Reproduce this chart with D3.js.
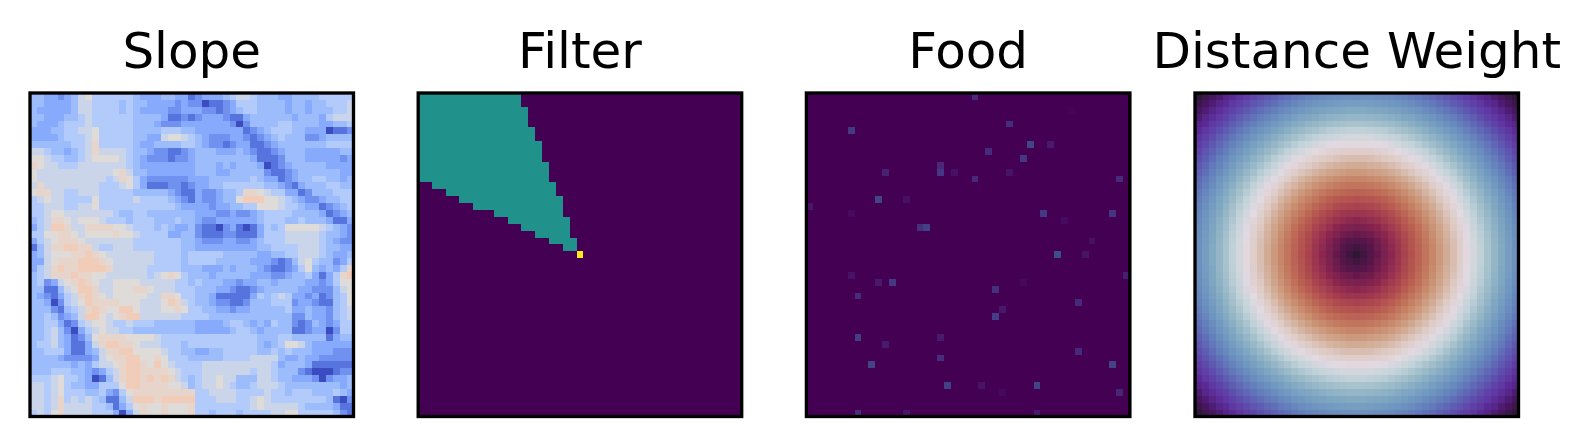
<!DOCTYPE html>
<html>
<head>
<meta charset="utf-8">
<script src="https://cdn.jsdelivr.net/npm/d3@7"></script>
<style>
html,body{margin:0;padding:0;background:#fff;overflow:hidden}
svg{display:block}
text{font-family:"DejaVu Sans",sans-serif;fill:#000}
</style>
</head>
<body>
<svg id="chart" width="1590" height="446">
<defs><filter id="soft" x="-2%" y="-2%" width="104%" height="104%"><feGaussianBlur stdDeviation="0.5"/></filter></defs>
</svg>
<script>
const titles = ["Slope", "Filter", "Food", "Distance Weight"];

// Slope: one digit per cell; slopeLevels gives each digit's value
const slopeRows = [
"44332 34675 55555 43334 43312 33345 66544 43344 44555 55",
"44333 34665 55545 44333 32322 01123 55544 44344 34455 56",
"43333 34665 55545 43333 22333 22123 45544 44344 34445 56",
"44333 44565 55555 44443 11212 33321 13444 44434 44356 66",
"43334 55565 55555 44432 22333 33332 02444 45544 44334 45",
"33344 55667 55555 44445 55443 33333 31234 55544 33301 12",
"33334 55567 55555 44336 77654 32223 32123 45444 22344 44",
"44444 45568 55555 43344 44554 32212 33112 34444 44455 55",
"66544 34568 66665 44322 11234 44333 43211 23444 33333 44",
"77655 44567 77765 43222 12234 44444 44311 12444 33333 23",
"87665 55666 66665 43333 33334 44343 44430 12344 44433 33",
"76666 66666 66786 44333 33334 44334 44442 11234 44444 33",
"76666 66666 65687 53222 22233 34444 44543 31234 45544 34",
"68666 66666 55567 53111 22123 34455 55554 43213 44455 44",
"78866 55666 55555 44444 32113 22344 58876 55331 24445 55",
"56766 55557 55555 65555 43213 22344 79997 76543 22344 55",
"55666 55667 55555 55555 54333 32334 45577 76554 33123 45",
"55677 66666 66544 55444 44443 33223 22345 55544 44312 34",
"45688 76777 65554 55544 45443 22333 33345 55445 44431 13",
"35699 86688 88776 55545 43342 11023 10135 45777 77654 32",
"55778 87677 77877 65555 33442 11122 11135 55666 66544 32",
"35678 88766 66666 55555 55443 22233 22345 55666 66543 22",
"14688 99886 55666 55555 55443 33333 33344 55556 66544 33",
"34677 78898 76666 66655 55455 55544 44433 44556 66543 34",
"33678 88999 87666 66655 55455 55444 44333 21246 75442 35",
"35689 88999 98666 66555 55444 33343 44432 11235 74343 58",
"45688 89887 76666 66567 87544 43444 44333 22344 53135 89",
"45236 78987 66777 76666 65545 44433 23344 34444 33235 77",
"44114 67998 66777 88766 65554 44332 11234 44443 32224 67",
"43213 56898 76777 77668 87554 43111 11354 56533 23124 57",
"44302 56798 88877 76667 98654 43221 12444 55523 32114 57",
"44421 45689 87799 76667 78755 44332 33444 44533 43324 56",
"44542 34699 76789 96666 66555 54444 44444 44422 43324 56",
"44553 12567 76556 55544 44443 33345 54343 54421 24323 55",
"44564 20356 76655 44444 44443 33334 55434 44411 23302 55",
"44564 31247 88887 77765 55555 55555 55544 45544 44413 44",
"45564 31136 89988 76665 55455 55555 55543 45776 43333 33",
"44555 31134 68899 77776 55443 34455 55544 54544 43332 22",
"44443 22223 67889 97787 55544 44455 55666 64334 33222 22",
"44444 43435 66789 98797 65555 66666 66666 53444 31111 11",
"44455 54432 35689 98888 76555 66666 66566 54442 10001 22",
"55567 55430 14689 98989 86545 66766 44466 54433 32023 34",
"66567 54433 55579 98888 77645 66765 44566 65444 44444 34",
"66567 55544 53257 88888 88885 56666 55556 55455 54445 43",
"66568 56565 41146 99989 99995 55666 55676 55555 55541 02",
"66568 66665 54135 78778 77785 55555 55676 66665 44443 11",
"56578 66665 55303 68778 77785 54555 45555 66775 55554 21"
];
const slopeLevels = [0, 0.09, 0.165, 0.235, 0.3, 0.365, 0.44, 0.51, 0.56, 0.62];
const coolwarmStops = [0, 0.125, 0.25, 0.375, 0.5, 0.625, 0.75, 1];
const coolwarmColors = ["#3b4cc0", "#6282ea", "#8db0fe", "#b6cdfa", "#dddcdc", "#f2cbb7", "#f49a7b", "#b40426"];

// Filter: for rows 0..22, first and last teal column; the agent sits in one bright cell
const filterFirst = [0,0,0,0,0,0,0,0,0,0,0,0,0,2,4,6,8,11,13,15,17,19,21];
const filterLast = [14,14,15,15,15,16,16,17,17,17,18,18,18,19,19,20,20,20,21,21,21,22,22];
const filterCone = 0.5;
const filterAgentRow = 23;
const filterAgentCol = 23;

// Food: sparse cells
const foodCols = [24,38,29,6,32,35,26,31,19,19,11,21,29,24,45,10,14,0,6,34,44,37,16,17,41,36,40,6,46,10,12,31,27,7,39,28,27,7,19,11,39,19,9,44,20,25,33,28,45,7,14,33];
const foodRows = [0,2,4,5,7,7,8,9,10,11,11,11,11,12,12,15,15,16,17,17,17,18,19,19,21,23,23,26,26,27,27,27,28,29,30,31,32,35,35,36,37,38,39,39,42,42,42,43,43,46,46,46];
const foodValues = [0.12,0.01,0.13,0.17,0.2,0.07,0.12,0.16,0.11,0.16,0.09,0.04,0.05,0.11,0.12,0.2,0.04,0.06,0.03,0.17,0.15,0.03,0.14,0.19,0.04,0.24,0.05,0.05,0.08,0.07,0.16,0.02,0.14,0.13,0.11,0.06,0.18,0.18,0.07,0.07,0.11,0.13,0.2,0.2,0.19,0.05,0.2,0.02,0.1,0.13,0.06,0.07];

// Distance weight: one quadrant, rows and columns counted away from the centre cell
const distanceQuadrant = [
[0,1,2,3,4,5,6,7,8,9,10,11,12,13,14,15,16,17,18,19,20,21,22,23],
[1,1.4,2.2,3.2,4.1,5.1,6.1,7.1,8.1,9.1,10,11,12,13,14,15,16,17,18,19,20,21,22,23],
[2,2.2,2.8,3.6,4.5,5.4,6.3,7.3,8.2,9.2,10.2,11.2,12.2,13.2,14.1,15.1,16.1,17.1,18.1,19.1,20.1,21.1,22.1,23.1],
[3,3.2,3.6,4.2,5,5.8,6.7,7.6,8.5,9.5,10.4,11.4,12.4,13.3,14.3,15.3,16.3,17.3,18.2,19.2,20.2,21.2,22.2,23.2],
[4,4.1,4.5,5,5.7,6.4,7.2,8.1,8.9,9.8,10.8,11.7,12.6,13.6,14.6,15.5,16.5,17.5,18.4,19.4,20.4,21.4,22.4,23.3],
[5,5.1,5.4,5.8,6.4,7.1,7.8,8.6,9.4,10.3,11.2,12.1,13,13.9,14.9,15.8,16.8,17.7,18.7,19.6,20.6,21.6,22.6,23.5],
[6,6.1,6.3,6.7,7.2,7.8,8.5,9.2,10,10.8,11.7,12.5,13.4,14.3,15.2,16.2,17.1,18,19,19.9,20.9,21.8,22.8,23.8],
[7,7.1,7.3,7.6,8.1,8.6,9.2,9.9,10.6,11.4,12.2,13,13.9,14.8,15.7,16.6,17.5,18.4,19.3,20.2,21.2,22.1,23.1,24],
[8,8.1,8.2,8.5,8.9,9.4,10,10.6,11.3,12,12.8,13.6,14.4,15.3,16.1,17,17.9,18.8,19.7,20.6,21.5,22.5,23.4,24.4],
[9,9.1,9.2,9.5,9.8,10.3,10.8,11.4,12,12.7,13.5,14.2,15,15.8,16.6,17.5,18.4,19.2,20.1,21,21.9,22.8,23.8,24.7],
[10,10,10.2,10.4,10.8,11.2,11.7,12.2,12.8,13.5,14.1,14.9,15.6,16.4,17.2,18,18.9,19.7,20.6,21.5,22.4,23.3,24.2,25.1],
[11,11,11.2,11.4,11.7,12.1,12.5,13,13.6,14.2,14.9,15.6,16.3,17,17.8,18.6,19.4,20.2,21.1,22,22.8,23.7,24.6,25.5],
[12,12,12.2,12.4,12.6,13,13.4,13.9,14.4,15,15.6,16.3,17,17.7,18.4,19.2,20,20.8,21.6,22.5,23.3,24.2,25.1,25.9],
[13,13,13.2,13.3,13.6,13.9,14.3,14.8,15.3,15.8,16.4,17,17.7,18.4,19.1,19.8,20.6,21.4,22.2,23,23.9,24.7,25.6,26.4],
[14,14,14.1,14.3,14.6,14.9,15.2,15.7,16.1,16.6,17.2,17.8,18.4,19.1,19.8,20.5,21.3,22,22.8,23.6,24.4,25.2,26.1,26.9],
[15,15,15.1,15.3,15.5,15.8,16.2,16.6,17,17.5,18,18.6,19.2,19.8,20.5,21.2,21.9,22.7,23.4,24.2,25,25.8,26.6,27.5],
[16,16,16.1,16.3,16.5,16.8,17.1,17.5,17.9,18.4,18.9,19.4,20,20.6,21.3,21.9,22.6,23.3,24.1,24.8,25.6,26.4,27.2,28],
[17,17,17.1,17.3,17.5,17.7,18,18.4,18.8,19.2,19.7,20.2,20.8,21.4,22,22.7,23.3,24,24.8,25.5,26.2,27,27.8,28.6],
[18,18,18.1,18.2,18.4,18.7,19,19.3,19.7,20.1,20.6,21.1,21.6,22.2,22.8,23.4,24.1,24.8,25.5,26.2,26.9,27.7,28.4,29.2],
[19,19,19.1,19.2,19.4,19.6,19.9,20.2,20.6,21,21.5,22,22.5,23,23.6,24.2,24.8,25.5,26.2,26.9,27.6,28.3,29.1,29.8],
[20,20,20.1,20.2,20.4,20.6,20.9,21.2,21.5,21.9,22.4,22.8,23.3,23.9,24.4,25,25.6,26.2,26.9,27.6,28.3,29,29.7,30.5],
[21,21,21.1,21.2,21.4,21.6,21.8,22.1,22.5,22.8,23.3,23.7,24.2,24.7,25.2,25.8,26.4,27,27.7,28.3,29,29.7,30.4,31.1],
[22,22,22.1,22.2,22.4,22.6,22.8,23.1,23.4,23.8,24.2,24.6,25.1,25.6,26.1,26.6,27.2,27.8,28.4,29.1,29.7,30.4,31.1,31.8],
[23,23,23.1,23.2,23.3,23.5,23.8,24,24.4,24.7,25.1,25.5,25.9,26.4,26.9,27.5,28,28.6,29.2,29.8,30.5,31.1,31.8,32.5]
];
const distanceCentre = 23;
const distanceMax = 32.5;
const twilightStops = [0,0.05,0.1,0.15,0.2,0.25,0.3,0.35,0.4,0.45,0.5,0.55,0.6,0.65,0.7,0.75,0.8,0.85,0.9,0.95,1];
const twilightColors = ["#2f1436","#4a1a66","#5c2a96","#5f43a8","#5f5fb4","#637ebb","#6e95c0","#81a8c2","#9dbcc9","#c3d3d9","#e2d9e2","#ddc9c2","#d1ab94","#c98d6f","#c06f58","#b4534f","#a23b4f","#8a2650","#6c1a4e","#4c1447","#2f1436"];

const N = 47;
const panelLefts = [30, 418.2, 806.4, 1195];
const panelTop = 93;
const panelSize = 323.5;

const index = d3.range(N);
const xBand = left => d3.scaleBand().domain(index).range([left, left + panelSize]);
const yBand = d3.scaleBand().domain(index).range([panelTop, panelTop + panelSize]);

const coolwarm = d3.scaleLinear().domain(coolwarmStops).range(coolwarmColors).interpolate(d3.interpolateRgb);
const twilight = d3.scaleLinear().domain(twilightStops).range(twilightColors).interpolate(d3.interpolateRgb);
const viridis = d3.scaleSequential(d3.interpolateViridis).domain([0, 1]);
const distanceToWeight = d3.scaleLinear().domain([0, distanceMax]).range([1, 0]);

const slopeGrid = slopeRows.map(r => Array.from(r.replace(/\s/g, ""), ch => slopeLevels[+ch]));
const filterGrid = index.map(r => index.map(c => {
  if (r === filterAgentRow && c === filterAgentCol) return 1;
  if (r < filterFirst.length && c >= filterFirst[r] && c <= filterLast[r]) return filterCone;
  return 0;
}));
const foodGrid = index.map(() => index.map(() => 0));
foodCols.forEach((c, i) => { foodGrid[foodRows[i]][c] = foodValues[i]; });
const distanceGrid = index.map(r => index.map(c =>
  distanceToWeight(distanceQuadrant[Math.abs(r - distanceCentre)][Math.abs(c - distanceCentre)])));

const panels = [
  {grid: slopeGrid, color: coolwarm, soft: true},
  {grid: filterGrid, color: viridis, soft: false},
  {grid: foodGrid, color: viridis, soft: false},
  {grid: distanceGrid, color: twilight, soft: true}
];

const svg = d3.select("#chart");
panels.forEach((panel, p) => {
  const left = panelLefts[p];
  const x = xBand(left);
  const g = svg.append("g").attr("class", "panel");
  const cells = panel.grid.flatMap((row, r) => row.map((v, c) => ({r, c, v})));
  const image = g.append("g");
  if (panel.soft) image.attr("filter", "url(#soft)");
  image.append("g").attr("shape-rendering", "crispEdges")
    .selectAll("rect").data(cells).join("rect")
    .attr("x", d => x(d.c))
    .attr("y", d => yBand(d.r))
    .attr("width", x.bandwidth() + 0.5)
    .attr("height", yBand.bandwidth() + 0.5)
    .attr("fill", d => panel.color(d.v));
  g.append("rect")
    .attr("x", left).attr("y", panelTop)
    .attr("width", panelSize).attr("height", panelSize)
    .attr("fill", "none").attr("stroke", "#000").attr("stroke-width", 3.33);
  g.append("text")
    .attr("x", left + panelSize / 2).attr("y", 68)
    .attr("text-anchor", "middle")
    .attr("font-size", 50)
    .text(titles[p]);
});
</script>
</body>
</html>
